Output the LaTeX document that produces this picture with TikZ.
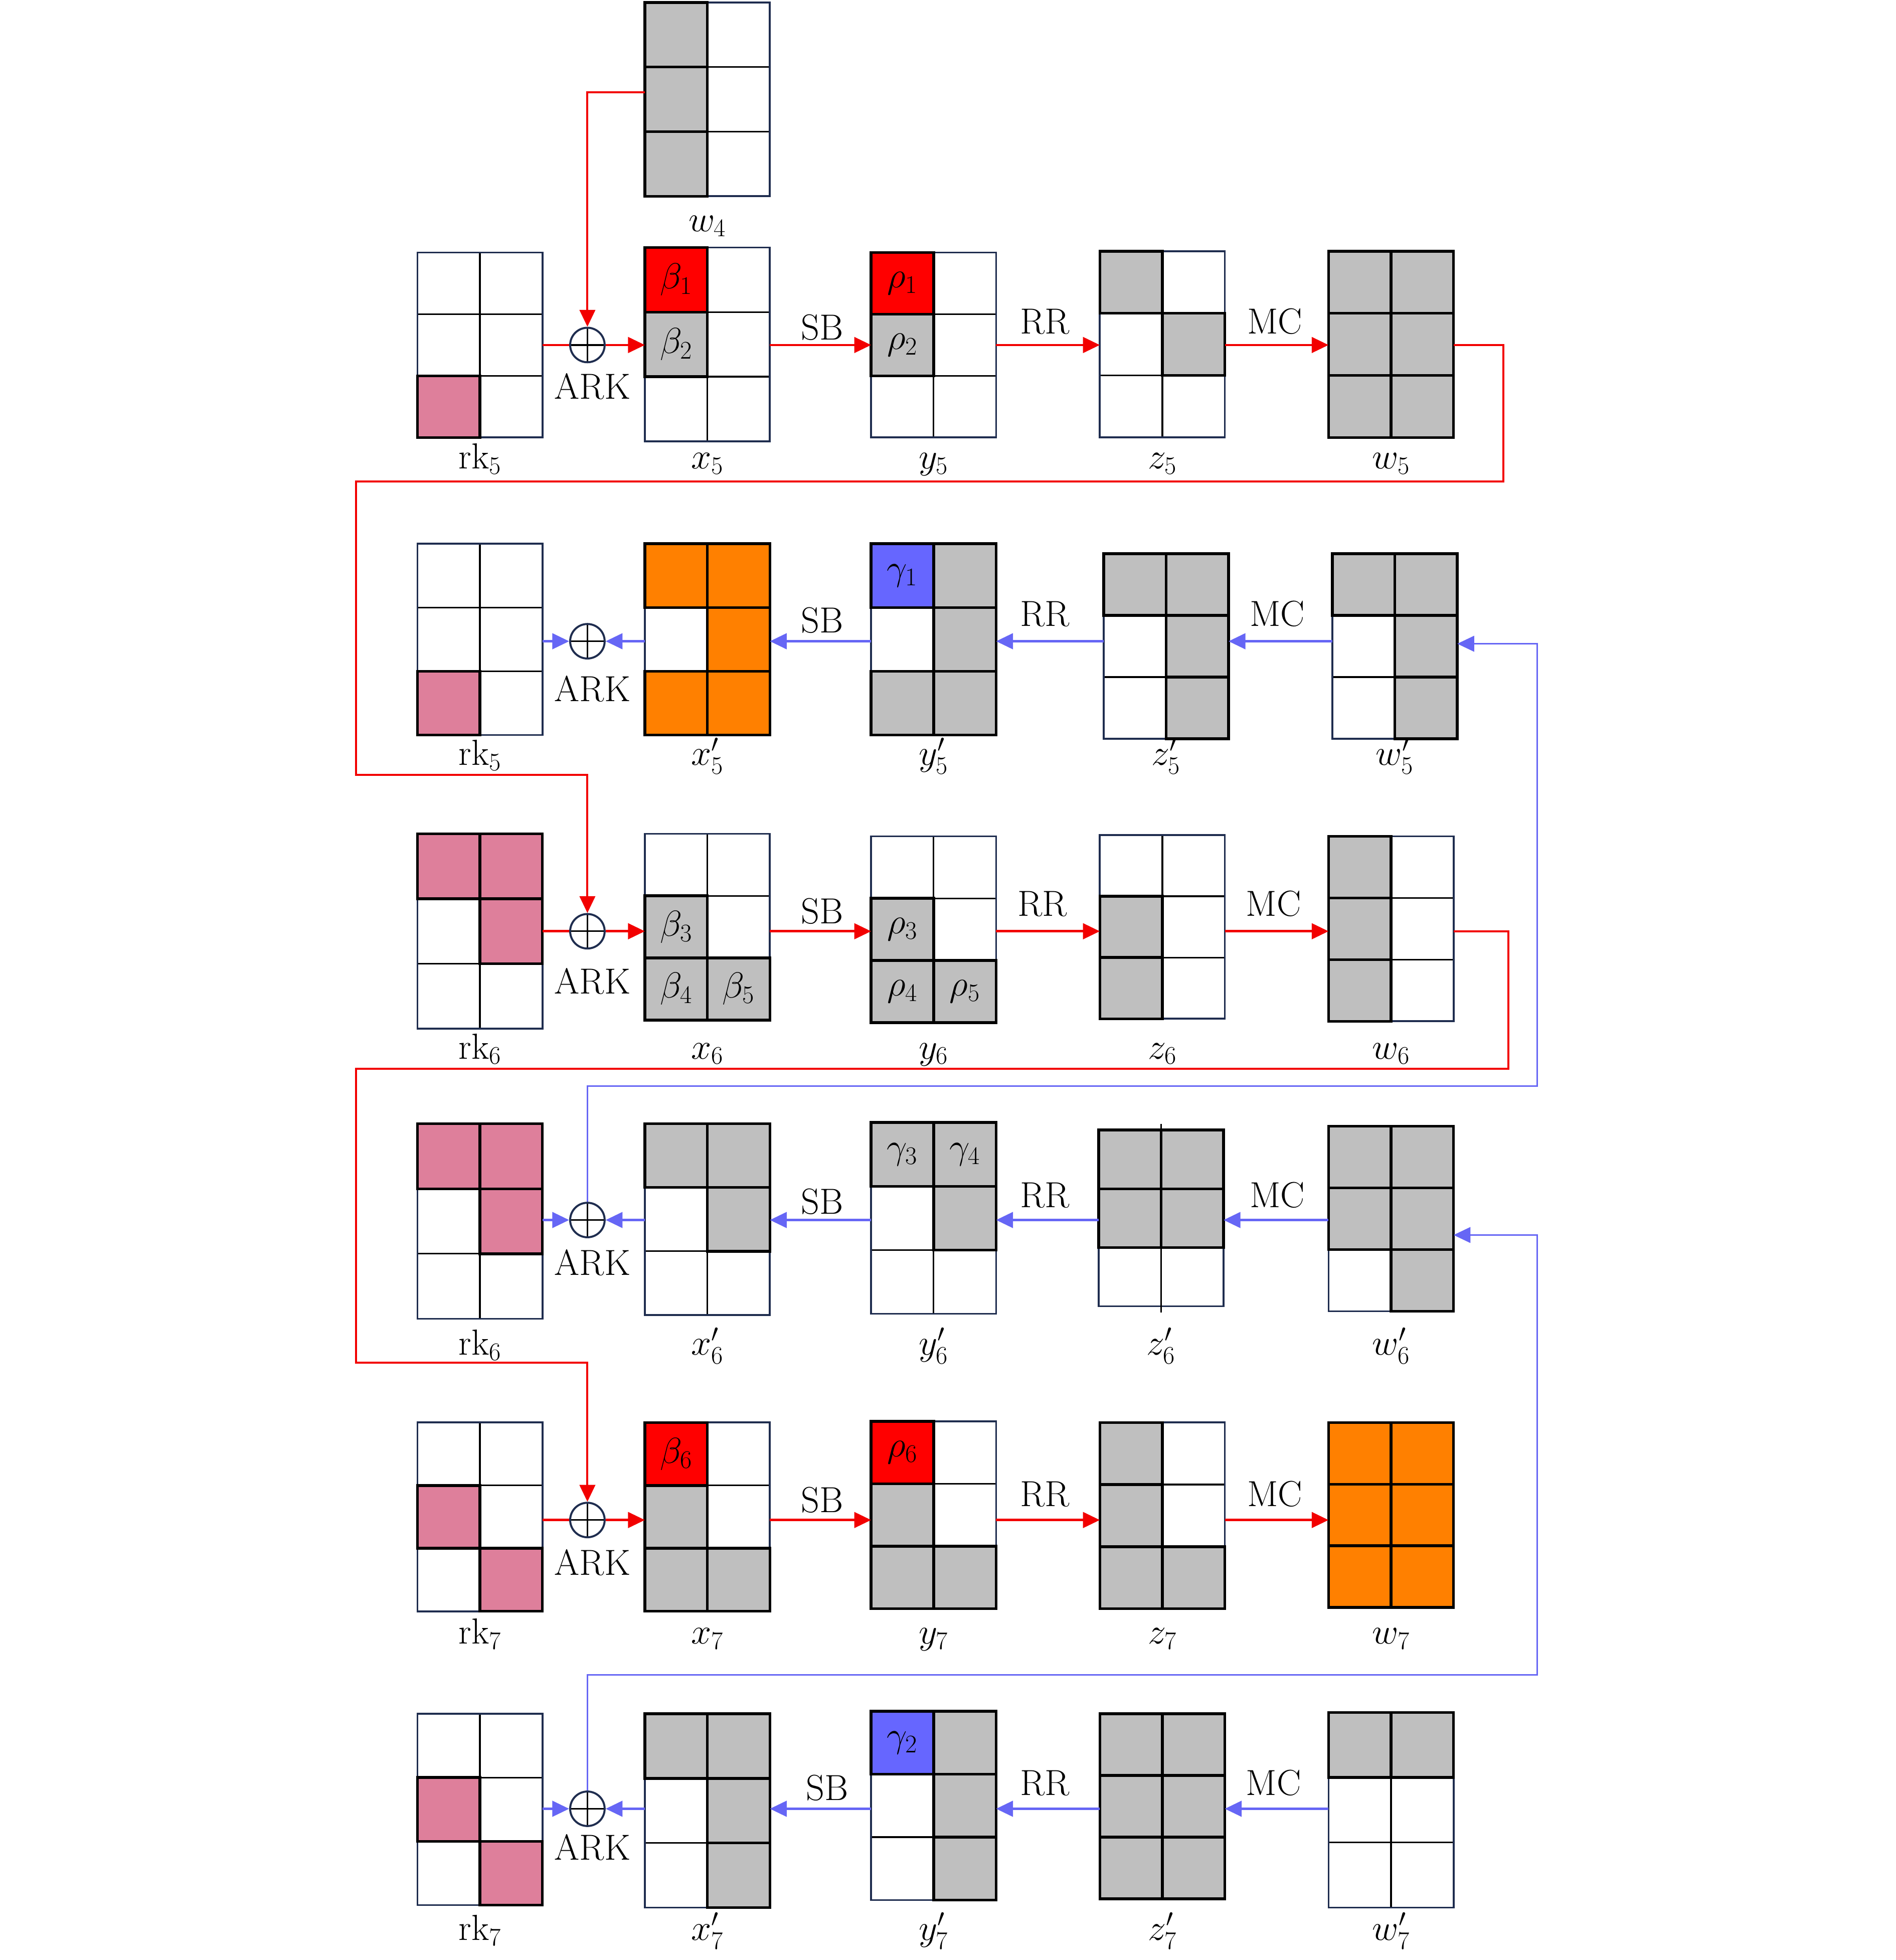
\RequirePackage{fix-cm}
\documentclass[tikz,border=0pt]{standalone}
\usetikzlibrary{arrows.meta}
\definecolor{gcell}{HTML}{BFBFBF}
\definecolor{rcell}{HTML}{FF0000}
\definecolor{pcell}{HTML}{DE7F9B}
\definecolor{ocell}{HTML}{FF8000}
\definecolor{bcell}{HTML}{6666FF}
\definecolor{navy}{HTML}{1F2D4F}
\definecolor{bline}{HTML}{6666F5}
\definecolor{rline}{HTML}{F20000}
\tikzset{
  gridnode/.style={rectangle, minimum width=100pt, inner sep=0pt, outer sep=0pt, anchor=north west},
  inner/.style={black, line width=1.3pt},
  outer/.style={navy, line width=1.5pt},
  cellline/.style={black, line width=2.2pt},
  celltext/.style={inner sep=0pt},
  lab/.style={anchor=base, inner sep=0pt},
  oplab/.style={anchor=base, inner sep=0pt},
  xo/.style={circle, draw=navy, fill=white, line width=1.6pt, minimum size=27.6pt, inner sep=0pt,
    path picture={\draw[black, line width=1.3pt] (path picture bounding box.north) -- (path picture bounding box.south)
      (path picture bounding box.west) -- (path picture bounding box.east);}},
  tip/.style={-{Triangle[length=13.5pt,width=12.5pt]}},
  fwd/.style={rline, line width=1.9pt},
  bwd/.style={bline, line width=1.9pt},
  rfb/.style={rline, line width=1.6pt},
  bfb/.style={bline, line width=1.3pt}
}
% #1 name, #2 left, #3 top, #4 bottom, #5 cells, #6 label, #7 label baseline
\newcommand\grid[7]{%
  \node[gridnode, minimum height={(#4-#3)*1pt}] (#1) at (#2,#3) {};
  \pgfmathsetmacro\gh{(#4-#3)/3}%
  \foreach \rr/\cc/\cl/\tx in {#5}{%
    \fill[\cl] ({#2+(\cc-1)*50},{#3+(\rr-1)*\gh}) rectangle ++(50,\gh);
  }%
  \draw[inner] ({#2+50},#3) -- ({#2+50},#4);
  \draw[inner] (#2,{#3+\gh}) -- ++(100,0);
  \draw[inner] (#2,{#3+2*\gh}) -- ++(100,0);
  \draw[outer] (#1.north west) rectangle (#1.south east);
  \foreach \rr/\cc/\cl/\tx in {#5}{%
    \draw[cellline] ({#2+(\cc-1)*50},{#3+(\rr-1)*\gh}) rectangle ++(50,\gh);
    \node[celltext] (#1-\rr\cc) at ({#2+(\cc-1)*50+25},{#3+(\rr-0.5)*\gh}) {\tx};
  }%
  \node[lab] (#1-lab) at ({#2+50},#7) {#6};
}
\begin{document}
\begin{tikzpicture}[x=1pt, y=-1pt, font=\fontsize{29}{33}\selectfont]
\useasboundingbox (0,0) rectangle (1517,1568);

% ---- row 0
\grid{w4}{516}{2}{157}{1/1/gcell/,2/1/gcell/,3/1/gcell/}{$w_4$}{185}
% ---- row 1
\grid{rkA}{334}{202}{350}{3/1/pcell/}{$\mathrm{rk}_5$}{375}
\grid{xA}{516}{198}{353}{1/1/rcell/$\beta_1$,2/1/gcell/$\beta_2$}{$x_5$}{375}
\grid{yA}{697}{202}{350}{1/1/rcell/$\rho_1$,2/1/gcell/$\rho_2$}{$y_5$}{375}
\grid{zA}{880}{201}{350}{1/1/gcell/,2/2/gcell/}{$z_5$}{375}
\grid{wA}{1063}{201}{350}{1/1/gcell/,1/2/gcell/,2/1/gcell/,2/2/gcell/,3/1/gcell/,3/2/gcell/}{$w_5$}{375}
% ---- row 2
\grid{rkB}{334}{435}{588}{3/1/pcell/}{$\mathrm{rk}_5$}{612}
\grid{xB}{516}{435}{588}{1/1/ocell/,1/2/ocell/,2/2/ocell/,3/1/ocell/,3/2/ocell/}{$x'_5$}{612}
\grid{yB}{697}{435}{588}{1/1/bcell/$\gamma_1$,1/2/gcell/,2/2/gcell/,3/1/gcell/,3/2/gcell/}{$y'_5$}{612}
\grid{zB}{883}{443}{591}{1/1/gcell/,1/2/gcell/,2/2/gcell/,3/2/gcell/}{$z'_5$}{612}
\grid{wB}{1066}{443}{591}{1/1/gcell/,1/2/gcell/,2/2/gcell/,3/2/gcell/}{$w'_5$}{612}
% ---- row 3
\grid{rkC}{334}{667}{823}{1/1/pcell/,1/2/pcell/,2/2/pcell/}{$\mathrm{rk}_6$}{847}
\grid{xC}{516}{667}{816}{2/1/gcell/$\beta_3$,3/1/gcell/$\beta_4$,3/2/gcell/$\beta_5$}{$x_6$}{847}
\grid{yC}{697}{669}{818}{2/1/gcell/$\rho_3$,3/1/gcell/$\rho_4$,3/2/gcell/$\rho_5$}{$y_6$}{847}
\grid{zC}{880}{668}{815}{2/1/gcell/,3/1/gcell/}{$z_6$}{847}
\grid{wC}{1063}{669}{817}{1/1/gcell/,2/1/gcell/,3/1/gcell/}{$w_6$}{847}
% ---- row 4
\grid{rkD}{334}{899}{1055}{1/1/pcell/,1/2/pcell/,2/2/pcell/}{$\mathrm{rk}_6$}{1084}
\grid{xD}{516}{899}{1052}{1/1/gcell/,1/2/gcell/,2/2/gcell/}{$x'_6$}{1084}
\grid{yD}{697}{898}{1051}{1/1/gcell/$\gamma_3$,1/2/gcell/$\gamma_4$,2/2/gcell/}{$y'_6$}{1084}
\grid{zD}{879}{904}{1045}{1/1/gcell/,1/2/gcell/,2/1/gcell/,2/2/gcell/}{$z'_6$}{1084}
\draw[inner] ([yshift=5pt]zD.north) -- ([yshift=-5pt]zD.south);
\grid{wD}{1063}{901}{1049}{1/1/gcell/,1/2/gcell/,2/1/gcell/,2/2/gcell/,3/2/gcell/}{$w'_6$}{1084}
% ---- row 5
\grid{rkE}{334}{1138}{1289}{2/1/pcell/,3/2/pcell/}{$\mathrm{rk}_7$}{1315}
\grid{xE}{516}{1138}{1289}{1/1/rcell/$\beta_6$,2/1/gcell/,3/1/gcell/,3/2/gcell/}{$x_7$}{1315}
\grid{yE}{697}{1137}{1287}{1/1/rcell/$\rho_6$,2/1/gcell/,3/1/gcell/,3/2/gcell/}{$y_7$}{1315}
\grid{zE}{880}{1138}{1287}{1/1/gcell/,2/1/gcell/,3/1/gcell/,3/2/gcell/}{$z_7$}{1315}
\grid{wE}{1063}{1138}{1286}{1/1/ocell/,1/2/ocell/,2/1/ocell/,2/2/ocell/,3/1/ocell/,3/2/ocell/}{$w_7$}{1315}
% ---- row 6
\grid{rkF}{334}{1371}{1524}{2/1/pcell/,3/2/pcell/}{$\mathrm{rk}_7$}{1552}
\grid{xF}{516}{1371}{1526}{1/1/gcell/,1/2/gcell/,2/2/gcell/,3/2/gcell/}{$x'_7$}{1552}
\grid{yF}{697}{1369}{1520}{1/1/bcell/$\gamma_2$,1/2/gcell/,2/2/gcell/,3/2/gcell/}{$y'_7$}{1552}
\grid{zF}{880}{1371}{1519}{1/1/gcell/,1/2/gcell/,2/1/gcell/,2/2/gcell/,3/1/gcell/,3/2/gcell/}{$z'_7$}{1552}
\grid{wF}{1063}{1370}{1526}{1/1/gcell/,1/2/gcell/}{$w'_7$}{1552}

% ---- XOR nodes
\node[xo] (o1) at (470,276) {};
\node[xo] (o2) at (470,513) {};
\node[xo] (o3) at (470,745) {};
\node[xo] (o4) at (470,976) {};
\node[xo] (o5) at (470,1216) {};
\node[xo] (o6) at (470,1447) {};

% ---- row levels
\coordinate (Y1) at (0,276);
\coordinate (Y2) at (0,513);
\coordinate (Y3) at (0,745);
\coordinate (Y4) at (0,976);
\coordinate (Y5) at (0,1216);
\coordinate (Y6) at (0,1447);
\coordinate (W4o) at (0,74);
\coordinate (WBi) at (0,515);
\coordinate (WDi) at (0,988);

% ---- forward rows (red)
\foreach \r/\Y/\o in {A/Y1/o1, C/Y3/o3, E/Y5/o5}{
  \draw[fwd] (rk\r.east |- \Y) -- (\o.west);
  \draw[fwd, tip] (\o.east) -- (x\r.west |- \Y);
  \draw[fwd, tip] (x\r.east |- \Y) -- (y\r.west |- \Y);
  \draw[fwd, tip] (y\r.east |- \Y) -- (z\r.west |- \Y);
  \draw[fwd, tip] (z\r.east |- \Y) -- (w\r.west |- \Y);
}
% ---- backward rows (blue)
\foreach \r/\Y/\o in {B/Y2/o2, D/Y4/o4, F/Y6/o6}{
  \draw[bwd, tip] (w\r.west |- \Y) -- (z\r.east |- \Y);
  \draw[bwd, tip] (z\r.west |- \Y) -- (y\r.east |- \Y);
  \draw[bwd, tip] (y\r.west |- \Y) -- (x\r.east |- \Y);
  \draw[bwd, tip] (x\r.west |- \Y) -- (\o.east);
  \draw[bwd, tip] (rk\r.east |- \Y) -- (\o.west);
}
% ---- feedback lines
\draw[rfb, tip] (w4.west |- W4o) -| (o1.north);
\draw[rfb, tip] (wA.east |- Y1) -| (1203,385) -| (285,620) -| (o3.north);
\draw[rfb, tip] (wC.east |- Y3) -| (1207,855) -| (285,1090) -| (o5.north);
\draw[bfb, tip] (o4.north) |- (1230,869) |- (wB.east |- WBi);
\draw[bfb, tip] (o6.north) |- (1230,1340) |- (wD.east |- WDi);

% ---- operation labels
\node[oplab] (ark1) at (474,319) {ARK};
\node[oplab] (sb1) at (658,272) {SB};
\node[oplab] (rr1) at (836,267) {RR};
\node[oplab] (mc1) at (1020,267) {MC};
\node[oplab] (ark2) at (474,561) {ARK};
\node[oplab] (sb2) at (658,506) {SB};
\node[oplab] (rr2) at (836,501) {RR};
\node[oplab] (mc2) at (1022,501) {MC};
\node[oplab] (ark3) at (474,795) {ARK};
\node[oplab] (sb3) at (658,739) {SB};
\node[oplab] (rr3) at (834,733) {RR};
\node[oplab] (mc3) at (1019,733) {MC};
\node[oplab] (ark4) at (474,1020) {ARK};
\node[oplab] (sb4) at (658,971) {SB};
\node[oplab] (rr4) at (836,966) {RR};
\node[oplab] (mc4) at (1022,966) {MC};
\node[oplab] (ark5) at (474,1260) {ARK};
\node[oplab] (sb5) at (658,1210) {SB};
\node[oplab] (rr5) at (836,1205) {RR};
\node[oplab] (mc5) at (1020,1205) {MC};
\node[oplab] (ark6) at (474,1488) {ARK};
\node[oplab] (sb6) at (662,1440) {SB};
\node[oplab] (rr6) at (836,1436) {RR};
\node[oplab] (mc6) at (1019,1436) {MC};
\end{tikzpicture}
\end{document}
